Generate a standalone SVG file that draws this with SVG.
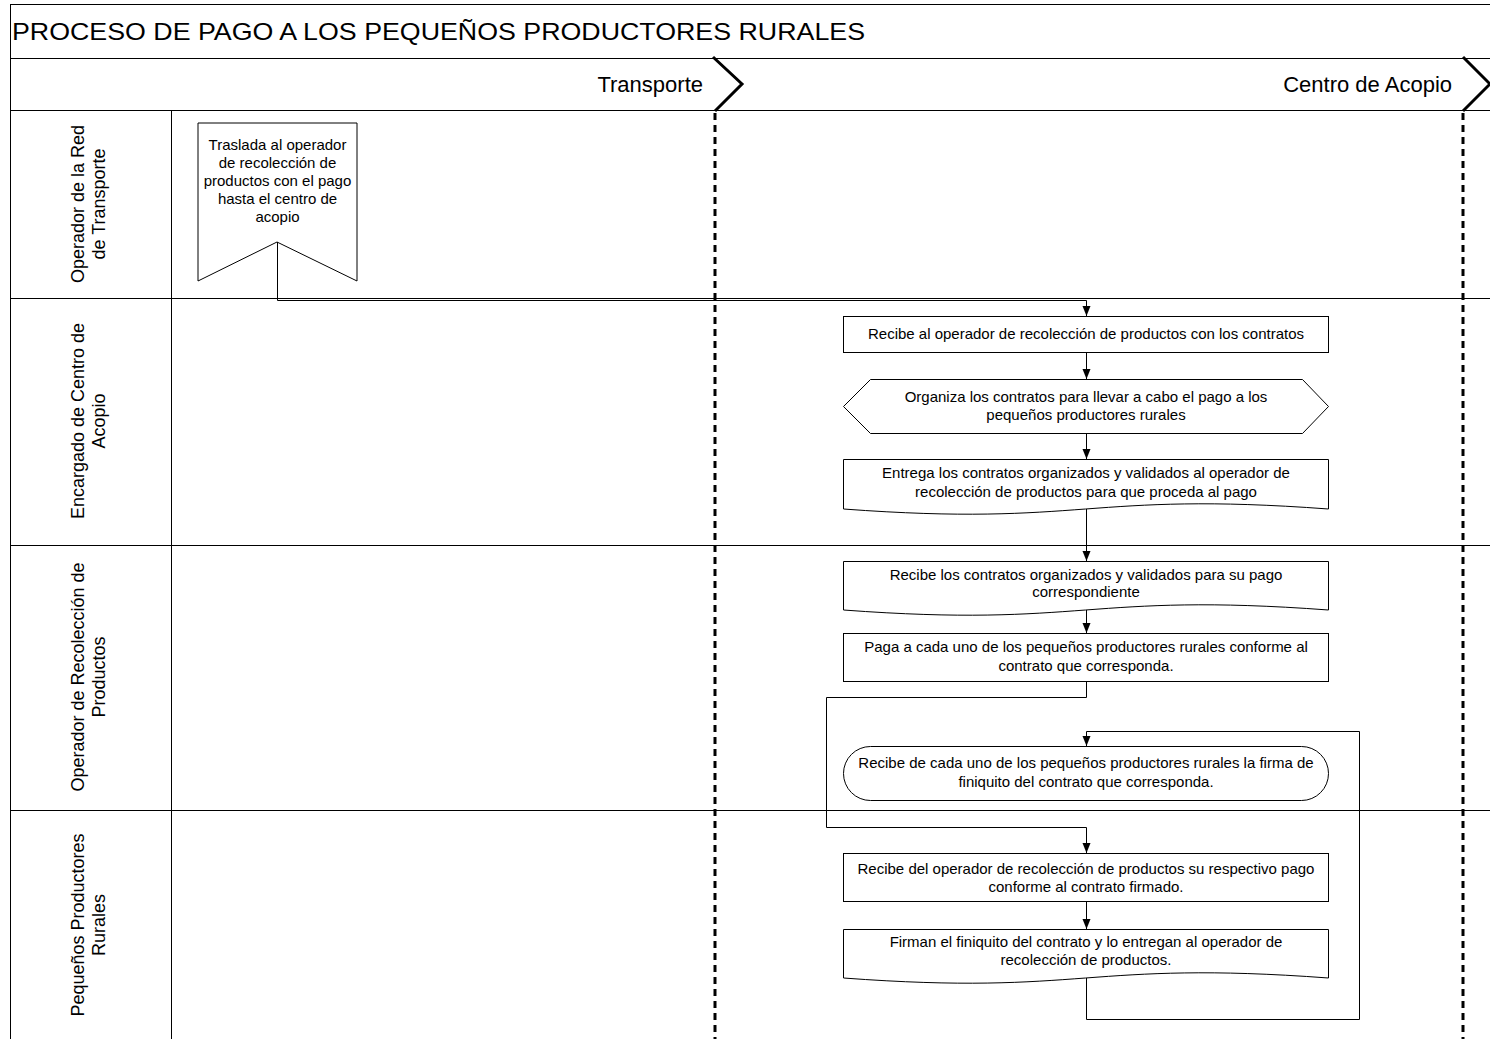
<svg xmlns="http://www.w3.org/2000/svg" width="1490" height="1039" viewBox="0 0 1490 1039">
<style>
.frame{fill:none;stroke:#000;stroke-width:1}
.sep{fill:none;stroke:#000;stroke-width:3;stroke-dasharray:7 5}
.chev{fill:none;stroke:#000;stroke-width:3}
.shape{fill:#fff;stroke:#000;stroke-width:1}
.conn{fill:none;stroke:#000;stroke-width:1}
.t{font-family:"Liberation Sans",Arial,sans-serif;fill:#000}
.node{font-size:15px;text-anchor:middle}
.lane{font-size:18px;text-anchor:middle}
.phase{font-size:22px;text-anchor:end}
</style>
<defs>
<marker id="arr" viewBox="0 0 10 10" refX="10" refY="5" markerWidth="10" markerHeight="10" markerUnits="userSpaceOnUse" orient="auto">
<path d="M0,1 L10,5 L0,9 Z" fill="#000"/>
</marker>
</defs>
<rect width="1490" height="1039" fill="#fff"/>
<g id="pool">
<line class="frame" x1="10" y1="4.5" x2="1490" y2="4.5"/>
<line class="frame" x1="10" y1="58.5" x2="1490" y2="58.5"/>
<line class="frame" x1="10" y1="110.5" x2="1490" y2="110.5"/>
<line class="frame" x1="10" y1="298.5" x2="1490" y2="298.5"/>
<line class="frame" x1="10" y1="545.5" x2="1490" y2="545.5"/>
<line class="frame" x1="10" y1="810.5" x2="1490" y2="810.5"/>
<line class="frame" x1="10.5" y1="4" x2="10.5" y2="1039"/>
<line class="frame" x1="171.5" y1="110" x2="171.5" y2="1039"/>
<text class="t" x="12" y="40" font-size="24" textLength="853" lengthAdjust="spacingAndGlyphs">PROCESO DE PAGO A LOS PEQUEÑOS PRODUCTORES RURALES</text>
</g>
<g id="phases">
<polyline class="chev" points="713,57 742,84 715,111"/>
<polyline class="chev" points="1463,57 1490,84 1463,111"/>
<line class="sep" x1="715" y1="113" x2="715" y2="1039"/>
<line class="sep" x1="1463" y1="113" x2="1463" y2="1039"/>
<text class="t phase" x="703" y="92">Transporte</text>
<text class="t phase" x="1452" y="92">Centro de Acopio</text>
</g>
<g id="lanes">
<text class="t lane" transform="translate(84,204) rotate(-90)">Operador de la Red</text>
<text class="t lane" transform="translate(105,204) rotate(-90)">de Transporte</text>
<text class="t lane" transform="translate(84,421) rotate(-90)">Encargado de Centro de</text>
<text class="t lane" transform="translate(105,421) rotate(-90)">Acopio</text>
<text class="t lane" transform="translate(84,677) rotate(-90)">Operador de Recolección de</text>
<text class="t lane" transform="translate(105,677) rotate(-90)">Productos</text>
<text class="t lane" transform="translate(84,925) rotate(-90)">Pequeños Productores</text>
<text class="t lane" transform="translate(105,925) rotate(-90)">Rurales</text>
</g>
<g id="n1">
<polygon class="shape" points="198,123 357,123 357,281 277,242 198,281"/>
<text class="t node" x="277.5" y="150">Traslada al operador</text>
<text class="t node" x="277.5" y="168">de recolección de</text>
<text class="t node" x="277.5" y="186">productos con el pago</text>
<text class="t node" x="277.5" y="204">hasta el centro de</text>
<text class="t node" x="277.5" y="222">acopio</text>
</g>
<g id="n2">
<rect class="shape" x="843.5" y="316.5" width="485" height="36"/>
<text class="t node" x="1086" y="339">Recibe al operador de recolección de productos con los contratos</text>
</g>
<g id="n3">
<polygon class="shape" points="843.5,406.5 870.5,379.5 1302.5,379.5 1328.5,406.5 1302.5,433.5 870.5,433.5"/>
<text class="t node" x="1086" y="402">Organiza los contratos para llevar a cabo el pago a los</text>
<text class="t node" x="1086" y="420">pequeños productores rurales</text>
</g>
<g id="n4">
<path class="shape" d="M843.5,459.5 H1328.5 V509 C1085.5,491 1085.5,527 843.5,509 Z"/>
<text class="t node" x="1086" y="478">Entrega los contratos organizados y validados al operador de</text>
<text class="t node" x="1086" y="497">recolección de productos para que proceda al pago</text>
</g>
<g id="n5">
<path class="shape" d="M843.5,561.5 H1328.5 V610 C1085.5,592 1085.5,628 843.5,610 Z"/>
<text class="t node" x="1086" y="580">Recibe los contratos organizados y validados para su pago</text>
<text class="t node" x="1086" y="597">correspondiente</text>
</g>
<g id="n6">
<rect class="shape" x="843.5" y="633.5" width="485" height="48"/>
<text class="t node" x="1086" y="652">Paga a cada uno de los pequeños productores rurales conforme al</text>
<text class="t node" x="1086" y="671">contrato que corresponda.</text>
</g>
<g id="n7">
<rect class="shape" x="843.5" y="746.5" width="485" height="54" rx="27" ry="27"/>
<text class="t node" x="1086" y="768">Recibe de cada uno de los pequeños productores rurales la firma de</text>
<text class="t node" x="1086" y="787">finiquito del contrato que corresponda.</text>
</g>
<g id="n8">
<rect class="shape" x="843.5" y="853.5" width="485" height="48"/>
<text class="t node" x="1086" y="874">Recibe del operador de recolección de productos su respectivo pago</text>
<text class="t node" x="1086" y="892">conforme al contrato firmado.</text>
</g>
<g id="n9">
<path class="shape" d="M843.5,929.5 H1328.5 V978 C1085.5,960 1085.5,996 843.5,978 Z"/>
<text class="t node" x="1086" y="947">Firman el finiquito del contrato y lo entregan al operador de</text>
<text class="t node" x="1086" y="965">recolección de productos.</text>
</g>
<g id="connectors">
<path class="conn" marker-end="url(#arr)" d="M277.5,242 V300.5 H1086.5 V316"/>
<path class="conn" marker-end="url(#arr)" d="M1086.5,353 V379"/>
<path class="conn" marker-end="url(#arr)" d="M1086.5,434 V459"/>
<path class="conn" marker-end="url(#arr)" d="M1086.5,509 V561"/>
<path class="conn" marker-end="url(#arr)" d="M1086.5,610 V633"/>
<path class="conn" marker-end="url(#arr)" d="M1086.5,682 V697.5 H826.5 V827.5 H1086.5 V853"/>
<path class="conn" marker-end="url(#arr)" d="M1086.5,902 V929"/>
<path class="conn" marker-end="url(#arr)" d="M1086.5,978 V1019.5 H1359.5 V731.5 H1086.5 V746"/>
</g>
</svg>
